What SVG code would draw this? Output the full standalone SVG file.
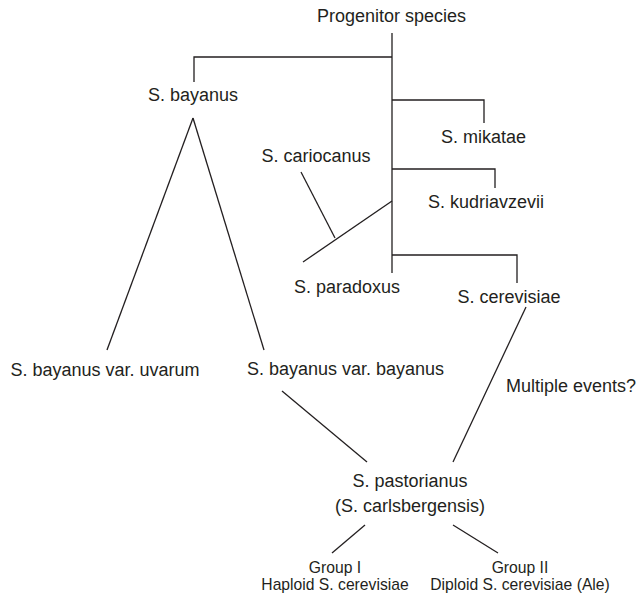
<svg xmlns="http://www.w3.org/2000/svg" width="640" height="593" viewBox="0 0 640 593">
<style>
  .lbl { font-family: "Liberation Sans", Arial, sans-serif; font-size: 18px; fill: #231f20; text-anchor: middle; }
  .sm { font-size: 15.7px; }
  .st { text-anchor: start; }
  .edge { stroke: #231f20; stroke-width: 1.3; fill: none; stroke-linecap: butt; }
</style>
<rect width="640" height="593" fill="#ffffff"/>
<g id="connectors">
  <line class="edge" x1="392" y1="33" x2="392" y2="273"/>
  <polyline class="edge" points="392,57 194,57 194,82"/>
  <polyline class="edge" points="392,100 484,100 484,123"/>
  <polyline class="edge" points="392,169 495,169 495,188"/>
  <polyline class="edge" points="392,255 517,255 517,283"/>
  <line class="edge" x1="392" y1="201" x2="303" y2="262"/>
  <line class="edge" x1="301" y1="172" x2="335" y2="238"/>
  <line class="edge" x1="193" y1="118" x2="107" y2="350"/>
  <line class="edge" x1="193" y1="118" x2="264" y2="350"/>
  <line class="edge" x1="282" y1="391" x2="367" y2="462"/>
  <line class="edge" x1="526" y1="307" x2="453" y2="462"/>
  <line class="edge" x1="365" y1="525" x2="332" y2="553"/>
  <line class="edge" x1="453" y1="525" x2="498" y2="553"/>
</g>
<g id="progenitor"><text class="lbl" x="391.5" y="22">Progenitor species</text></g>
<g id="bayanus"><text class="lbl" x="193" y="101">S. bayanus</text></g>
<g id="mikatae"><text class="lbl" x="483.5" y="143">S. mikatae</text></g>
<g id="cariocanus"><text class="lbl" x="316" y="162">S. cariocanus</text></g>
<g id="kudriavzevii"><text class="lbl st" x="428" y="208">S. kudriavzevii</text></g>
<g id="paradoxus"><text class="lbl" x="347" y="293">S. paradoxus</text></g>
<g id="cerevisiae"><text class="lbl" x="509" y="303">S. cerevisiae</text></g>
<g id="uvarum"><text class="lbl" x="105" y="376">S. bayanus var. uvarum</text></g>
<g id="var-bayanus"><text class="lbl" x="345.5" y="375">S. bayanus var. bayanus</text></g>
<g id="multiple-events"><text class="lbl" x="571" y="392">Multiple events?</text></g>
<g id="pastorianus">
  <text class="lbl" x="410" y="487">S. pastorianus</text>
  <text class="lbl" x="410" y="512">(S. carlsbergensis)</text>
</g>
<g id="group1">
  <text class="lbl sm" x="335" y="573">Group I</text>
  <text class="lbl sm" x="335" y="590">Haploid S. cerevisiae</text>
</g>
<g id="group2">
  <text class="lbl sm" x="520" y="573">Group II</text>
  <text class="lbl sm" x="520" y="590">Diploid S. cerevisiae (Ale)</text>
</g>
</svg>
